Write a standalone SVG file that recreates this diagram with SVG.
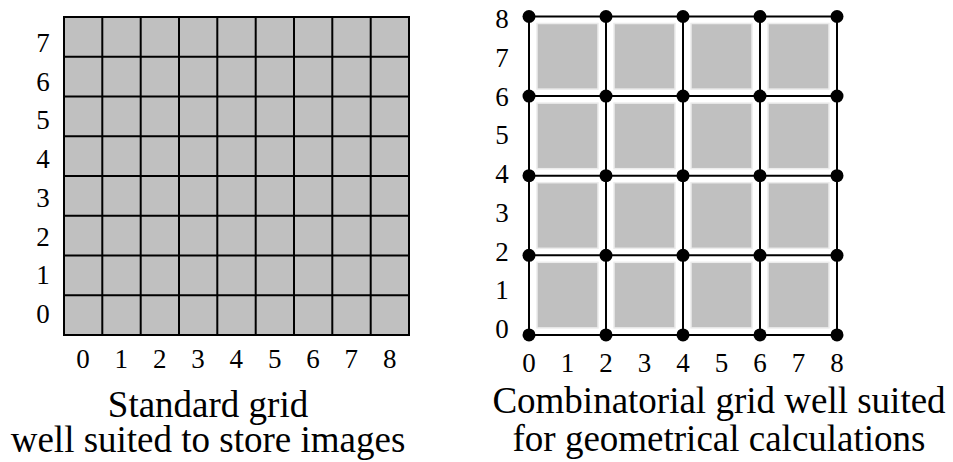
<svg xmlns="http://www.w3.org/2000/svg" width="953" height="462" viewBox="0 0 953 462">
<style>
.num{font-family:"Liberation Serif","Times New Roman",serif;font-size:27px;fill:#000;text-anchor:middle}
.title{font-family:"Liberation Serif","Times New Roman",serif;font-size:37px;fill:#000;text-anchor:middle}
.gl{stroke:#000;stroke-width:2;fill:none}
.cell{fill:#c0c0c0;stroke:#ececec;stroke-width:1.5}
.dot{fill:#000}
</style>
<rect width="953" height="462" fill="#fff"/>
<g id="standard-grid">
<rect x="64" y="17" width="345" height="318" fill="#c0c0c0"/>
<g class="gl">
<rect x="64" y="17" width="345" height="318"/>
<line x1="102.3" y1="17" x2="102.3" y2="335"/>
<line x1="140.7" y1="17" x2="140.7" y2="335"/>
<line x1="179" y1="17" x2="179" y2="335"/>
<line x1="217.3" y1="17" x2="217.3" y2="335"/>
<line x1="255.7" y1="17" x2="255.7" y2="335"/>
<line x1="294" y1="17" x2="294" y2="335"/>
<line x1="332.3" y1="17" x2="332.3" y2="335"/>
<line x1="370.7" y1="17" x2="370.7" y2="335"/>
<line x1="64" y1="56.75" x2="409" y2="56.75"/>
<line x1="64" y1="96.5" x2="409" y2="96.5"/>
<line x1="64" y1="136.25" x2="409" y2="136.25"/>
<line x1="64" y1="176" x2="409" y2="176"/>
<line x1="64" y1="215.75" x2="409" y2="215.75"/>
<line x1="64" y1="255.5" x2="409" y2="255.5"/>
<line x1="64" y1="295.25" x2="409" y2="295.25"/>
</g>
<g class="num">
<text x="43" y="52">7</text>
<text x="43" y="90.7">6</text>
<text x="43" y="129.4">5</text>
<text x="43" y="168.1">4</text>
<text x="43" y="206.9">3</text>
<text x="43" y="245.6">2</text>
<text x="43" y="284.3">1</text>
<text x="43" y="323">0</text>
<text x="83" y="367.5">0</text>
<text x="121.3" y="367.5">1</text>
<text x="159.7" y="367.5">2</text>
<text x="198" y="367.5">3</text>
<text x="236.3" y="367.5">4</text>
<text x="274.7" y="367.5">5</text>
<text x="313" y="367.5">6</text>
<text x="351.3" y="367.5">7</text>
<text x="389.7" y="367.5">8</text>
</g>
<text class="title" x="208" y="417">Standard grid</text>
<text class="title" x="208" y="451.5">well suited to store images</text>
</g>
<g id="combinatorial-grid">
<g id="cells">
<rect class="cell" x="537" y="23.5" width="61" height="65.6"/>
<rect class="cell" x="614" y="23.5" width="61" height="65.6"/>
<rect class="cell" x="691" y="23.5" width="61" height="65.6"/>
<rect class="cell" x="768" y="23.5" width="61" height="65.6"/>
<rect class="cell" x="537" y="103.1" width="61" height="65.6"/>
<rect class="cell" x="614" y="103.1" width="61" height="65.6"/>
<rect class="cell" x="691" y="103.1" width="61" height="65.6"/>
<rect class="cell" x="768" y="103.1" width="61" height="65.6"/>
<rect class="cell" x="537" y="182.7" width="61" height="65.6"/>
<rect class="cell" x="614" y="182.7" width="61" height="65.6"/>
<rect class="cell" x="691" y="182.7" width="61" height="65.6"/>
<rect class="cell" x="768" y="182.7" width="61" height="65.6"/>
<rect class="cell" x="537" y="262.3" width="61" height="65.6"/>
<rect class="cell" x="614" y="262.3" width="61" height="65.6"/>
<rect class="cell" x="691" y="262.3" width="61" height="65.6"/>
<rect class="cell" x="768" y="262.3" width="61" height="65.6"/>
</g>
<g id="edges" class="gl">
<line x1="529" y1="16.5" x2="837" y2="16.5"/>
<line x1="529" y1="96.1" x2="837" y2="96.1"/>
<line x1="529" y1="175.7" x2="837" y2="175.7"/>
<line x1="529" y1="255.3" x2="837" y2="255.3"/>
<line x1="529" y1="334.9" x2="837" y2="334.9"/>
<line x1="529" y1="16.5" x2="529" y2="334.9"/>
<line x1="606" y1="16.5" x2="606" y2="334.9"/>
<line x1="683" y1="16.5" x2="683" y2="334.9"/>
<line x1="760" y1="16.5" x2="760" y2="334.9"/>
<line x1="837" y1="16.5" x2="837" y2="334.9"/>
</g>
<g id="vertices" class="dot">
<circle cx="529" cy="16.5" r="6.5"/><circle cx="606" cy="16.5" r="6.5"/><circle cx="683" cy="16.5" r="6.5"/><circle cx="760" cy="16.5" r="6.5"/><circle cx="837" cy="16.5" r="6.5"/>
<circle cx="529" cy="96.1" r="6.5"/><circle cx="606" cy="96.1" r="6.5"/><circle cx="683" cy="96.1" r="6.5"/><circle cx="760" cy="96.1" r="6.5"/><circle cx="837" cy="96.1" r="6.5"/>
<circle cx="529" cy="175.7" r="6.5"/><circle cx="606" cy="175.7" r="6.5"/><circle cx="683" cy="175.7" r="6.5"/><circle cx="760" cy="175.7" r="6.5"/><circle cx="837" cy="175.7" r="6.5"/>
<circle cx="529" cy="255.3" r="6.5"/><circle cx="606" cy="255.3" r="6.5"/><circle cx="683" cy="255.3" r="6.5"/><circle cx="760" cy="255.3" r="6.5"/><circle cx="837" cy="255.3" r="6.5"/>
<circle cx="529" cy="334.9" r="6.5"/><circle cx="606" cy="334.9" r="6.5"/><circle cx="683" cy="334.9" r="6.5"/><circle cx="760" cy="334.9" r="6.5"/><circle cx="837" cy="334.9" r="6.5"/>
</g>
<g class="num">
<text x="502" y="28">8</text>
<text x="502" y="66.8">7</text>
<text x="502" y="105.5">6</text>
<text x="502" y="144.3">5</text>
<text x="502" y="183">4</text>
<text x="502" y="221.8">3</text>
<text x="502" y="260.5">2</text>
<text x="502" y="299.3">1</text>
<text x="502" y="338">0</text>
<text x="529" y="371.5">0</text>
<text x="567.5" y="371.5">1</text>
<text x="606" y="371.5">2</text>
<text x="644.5" y="371.5">3</text>
<text x="683" y="371.5">4</text>
<text x="721.5" y="371.5">5</text>
<text x="760" y="371.5">6</text>
<text x="798.5" y="371.5">7</text>
<text x="837" y="371.5">8</text>
</g>
<text class="title" x="719" y="413">Combinatorial grid well suited</text>
<text class="title" x="719" y="450.5">for geometrical calculations</text>
</g>
</svg>
